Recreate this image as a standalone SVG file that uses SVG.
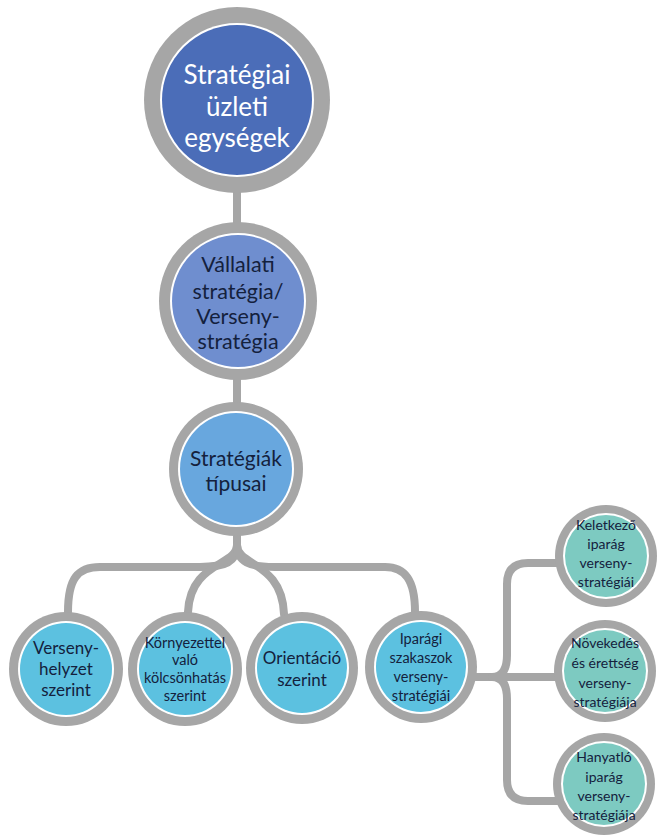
<svg xmlns="http://www.w3.org/2000/svg" width="657" height="840" viewBox="0 0 657 840">
  <style>
    .link { fill: none; stroke: #a6a6a6; stroke-width: 8; stroke-linecap: round; stroke-linejoin: round; }
    .ring { fill: #a6a6a6; }
    .gap { fill: #ffffff; }
    .lvl0 { fill: #4b6db8; }
    .lvl1 { fill: #6f8ecf; }
    .lvl2 { fill: #68a7de; }
    .lvl3 { fill: #5cc1e0; }
    .lvl4 { fill: #7dcac1; }
    text { font-family: Lato, "Open Sans", "Liberation Sans", sans-serif; text-anchor: middle; fill: #14213d; }
    .t0 { font-size: 26px; fill: #ffffff; }
    .t1 { font-size: 21.5px; }
    .t2 { font-size: 21px; }
    .t3 { font-size: 17px; }
    .t3s { font-size: 14.5px; }
    .t3m { font-size: 14.5px; }
    .t4 { font-size: 14px; }
  </style>

  <!-- connectors -->
  <g id="connectors">
    <path class="link" d="M237,190 V225"/>
    <path class="link" d="M237,375 V406"/>
    <path class="link" d="M237,532 V545"/>
    <path class="link" d="M237,545 C237,562 225,567 200,567 H100 C78,567 68,578 68,612"/>
    <path class="link" d="M237,545 C237,566 190,562 188,612"/>
    <path class="link" d="M237,545 C237,566 282,562 284,614"/>
    <path class="link" d="M237,545 C237,562 250,567 275,567 H385 C405,567 415,580 415,612"/>
    <path class="link" d="M476,677 H492 C502,677 507,670 507,655 V584 C507,570 514,563 528,563 H560"/>
    <path class="link" d="M492,677 C502,677 507,684 507,699 V780 C507,794 514,801 528,801 H560"/>
    <path class="link" d="M492,677 H560"/>
  </g>

  <g id="node-strategiai-uzleti-egysegek">
    <circle class="ring" cx="237" cy="100" r="93"/>
    <circle class="gap" cx="237" cy="100" r="77"/>
    <circle class="lvl0" cx="237" cy="100" r="75"/>
    <text class="t0" x="237" y="84">Stratégiai</text>
    <text class="t0" x="237" y="116">üzleti</text>
    <text class="t0" x="237" y="147">egységek</text>
  </g>

  <g id="node-vallalati-strategia">
    <circle class="ring" cx="238" cy="301" r="79"/>
    <circle class="gap" cx="238" cy="301" r="68"/>
    <circle class="lvl1" cx="238" cy="301" r="66"/>
    <text class="t1" x="238" y="272">Vállalati</text>
    <text class="t1" x="238" y="299">stratégia/</text>
    <text class="t1" x="238" y="324">Verseny-</text>
    <text class="t1" x="238" y="349">stratégia</text>
  </g>

  <g id="node-strategiak-tipusai">
    <circle class="ring" cx="236" cy="469" r="67"/>
    <circle class="gap" cx="236" cy="469" r="58"/>
    <circle class="lvl2" cx="236" cy="469" r="56"/>
    <text class="t2" x="236" y="466">Stratégiák</text>
    <text class="t2" x="236" y="491">típusai</text>
  </g>

  <g id="node-versenyhelyzet">
    <circle class="ring" cx="66" cy="669" r="57"/>
    <circle class="gap" cx="66" cy="669" r="48"/>
    <circle class="lvl3" cx="66" cy="669" r="46"/>
    <text class="t3" x="66" y="654">Verseny-</text>
    <text class="t3" x="66" y="675">helyzet</text>
    <text class="t3" x="66" y="696">szerint</text>
  </g>

  <g id="node-kornyezettel">
    <circle class="ring" cx="185" cy="669" r="57"/>
    <circle class="gap" cx="185" cy="669" r="48"/>
    <circle class="lvl3" cx="185" cy="669" r="46"/>
    <text class="t3s" x="185" y="648">Környezettel</text>
    <text class="t3s" x="185" y="665">való</text>
    <text class="t3s" x="185" y="683">kölcsönhatás</text>
    <text class="t3s" x="185" y="701">szerint</text>
  </g>

  <g id="node-orientacio">
    <circle class="ring" cx="302" cy="668" r="56"/>
    <circle class="gap" cx="302" cy="668" r="47"/>
    <circle class="lvl3" cx="302" cy="668" r="45"/>
    <text class="t3" x="302" y="664">Orientáció</text>
    <text class="t3" x="302" y="686">szerint</text>
  </g>

  <g id="node-iparagi-szakaszok">
    <circle class="ring" cx="421" cy="667" r="56"/>
    <circle class="gap" cx="421" cy="667" r="47"/>
    <circle class="lvl3" cx="421" cy="667" r="45"/>
    <text class="t3m" x="421" y="644">Iparági</text>
    <text class="t3m" x="421" y="663">szakaszok</text>
    <text class="t3m" x="421" y="682">verseny-</text>
    <text class="t3m" x="421" y="701">stratégiái</text>
  </g>

  <g id="node-keletkezo">
    <circle class="ring" cx="606" cy="556" r="51"/>
    <circle class="gap" cx="606" cy="556" r="43"/>
    <circle class="lvl4" cx="606" cy="556" r="41"/>
    <text class="t4" x="606" y="530">Keletkező</text>
    <text class="t4" x="606" y="549">iparág</text>
    <text class="t4" x="606" y="568">verseny-</text>
    <text class="t4" x="606" y="587">stratégiái</text>
  </g>

  <g id="node-novekedes">
    <circle class="ring" cx="605" cy="671" r="51"/>
    <circle class="gap" cx="605" cy="671" r="43"/>
    <circle class="lvl4" cx="605" cy="671" r="41"/>
    <text class="t4" x="605" y="648">Növekedés</text>
    <text class="t4" x="605" y="668">és érettség</text>
    <text class="t4" x="605" y="688">verseny-</text>
    <text class="t4" x="605" y="707">stratégiája</text>
  </g>

  <g id="node-hanyatlo">
    <circle class="ring" cx="604" cy="784" r="51"/>
    <circle class="gap" cx="604" cy="784" r="43"/>
    <circle class="lvl4" cx="604" cy="784" r="41"/>
    <text class="t4" x="604" y="762">Hanyatló</text>
    <text class="t4" x="604" y="782">iparág</text>
    <text class="t4" x="604" y="801">verseny-</text>
    <text class="t4" x="604" y="820">stratégiája</text>
  </g>
</svg>
